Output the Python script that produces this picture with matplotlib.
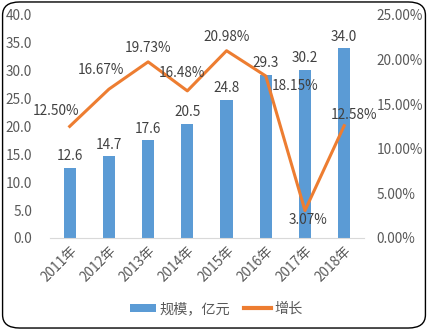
import matplotlib
matplotlib.use('Agg')
import matplotlib.pyplot as plt
from matplotlib.patches import FancyBboxPatch
from matplotlib.ticker import FuncFormatter

plt.rcParams['font.family'] = ['Noto Sans CJK SC', 'DejaVu Sans']

years = ['2011年', '2012年', '2013年', '2014年', '2015年', '2016年', '2017年', '2018年']
scale = [12.6, 14.7, 17.6, 20.5, 24.8, 29.3, 30.2, 34.0]
growth = [12.50, 16.67, 19.73, 16.48, 20.98, 18.15, 3.07, 12.58]

# label offsets for the growth line (points)
offsets = [(-10, 6), (-6, 9), (0, 5), (-4, 8), (0, 5), (21, -12), (2, -12), (7, 3)]

bar_color = '#5B9BD5'
line_color = '#ED7D31'
text_color = '#595959'
fs = 9.8

fig = plt.figure(figsize=(4.28, 3.3), dpi=100)
ax = fig.add_axes([0.117, 0.279, 0.733, 0.676])
ax2 = ax.twinx()

x = range(len(years))
bars = ax.bar(x, scale, width=0.31, color=bar_color, label='规模，亿元', zorder=2)
ax.bar_label(bars, labels=['%.1f' % v for v in scale], padding=3, fontsize=fs, color='#404040')

ax.set_ylim(0, 40)
ax.set_yticks(range(0, 41, 5))
ax.yaxis.set_major_formatter(FuncFormatter(lambda v, p: '%.1f' % v))
ax.set_xlim(-0.5, len(years) - 0.5)
ax.set_xticks(list(x))
ax.set_xticklabels(years, rotation=45, ha='right', rotation_mode='anchor')

ax2.plot(list(x), growth, color=line_color, lw=2.2, label='增长', zorder=3)
ax2.set_ylim(0, 25)
ax2.set_yticks(range(0, 26, 5))
ax2.yaxis.set_major_formatter(FuncFormatter(lambda v, p: '%.2f%%' % v))
for i, g in enumerate(growth):
    ax2.annotate('%.2f%%' % g, (i, g), xytext=offsets[i], textcoords='offset points',
                 ha='center', va='bottom', fontsize=fs, color='#404040')

for a in (ax, ax2):
    for s in a.spines.values():
        s.set_visible(False)
    a.tick_params(length=0, labelsize=fs, labelcolor=text_color)
ax.spines['bottom'].set_visible(True)
ax.spines['bottom'].set_color('#D9D9D9')
ax.tick_params(axis='y', pad=13)
ax.tick_params(axis='x', pad=4)
ax2.tick_params(axis='y', pad=9)

h1, l1 = ax.get_legend_handles_labels()
h2, l2 = ax2.get_legend_handles_labels()
leg = fig.legend(h1 + h2, l1 + l2, loc='center', bbox_to_anchor=(0.505, 0.064), ncol=2,
                 frameon=False, fontsize=10.2, labelcolor=text_color, handlelength=1.85,
                 handleheight=0.5, columnspacing=1.0, handletextpad=0.25)
leg.get_lines()[0].set_linewidth(3)

border = FancyBboxPatch((0.006, 0.006), 0.988, 0.988, boxstyle='round,pad=0,rounding_size=0.04',
                        transform=fig.transFigure, fill=False, ec='black', lw=1.0)
fig.patches.append(border)

fig.savefig('out.png', dpi=100)
